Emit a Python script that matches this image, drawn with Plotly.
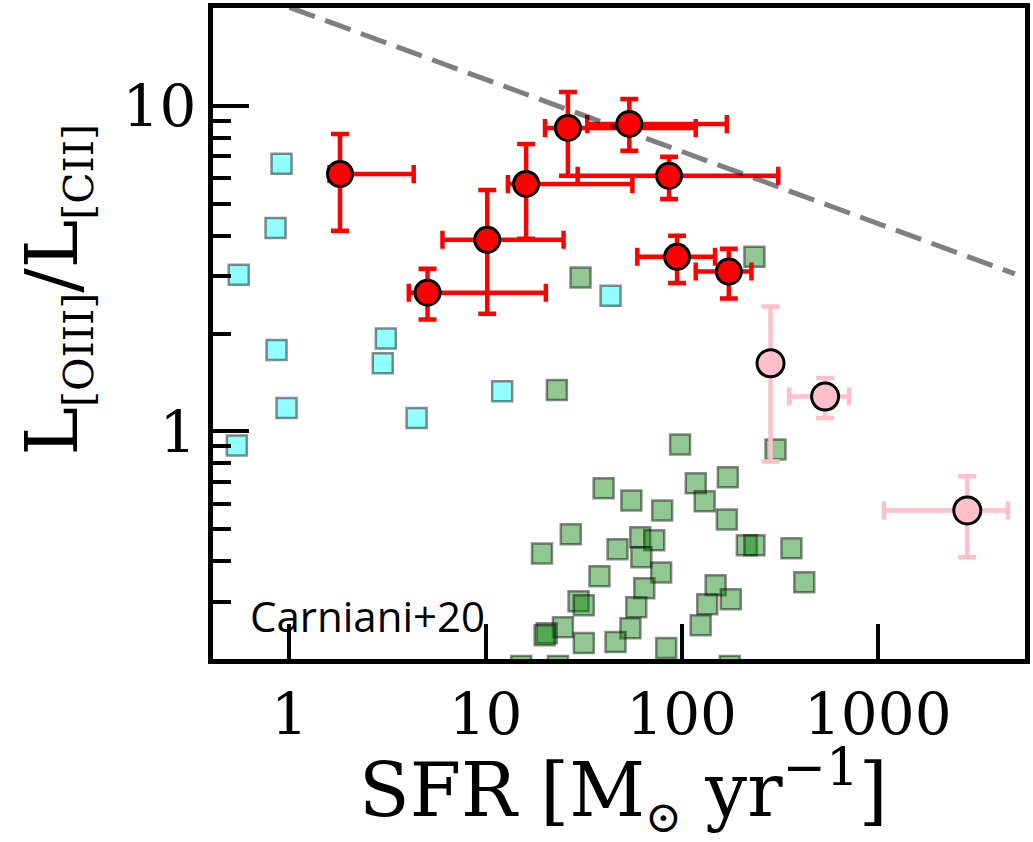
import numpy as np
import plotly.graph_objects as go

# ---------------- data ----------------
# red: Carniani+20 sample
red_sfr = [1.81, 5.06, 10.2, 16.1, 26.3, 54.1, 86.3, 94.8, 174]
red_sfr_lo = [1.6, 4.06, 6.03, 13.0, 20.1, 33.0, 29.5, 59.4, 118]
red_sfr_hi = [4.30, 20.3, 25.0, 56.1, 118, 170, 311, 148, 227]
red_ratio = [6.18, 2.67, 3.88, 5.76, 8.56, 8.81, 6.10, 3.44, 3.10]
red_ratio_lo = [4.14, 2.21, 2.30, 3.91, 6.10, 7.28, 5.18, 2.86, 2.56]
red_ratio_hi = [8.20, 3.16, 5.52, 7.64, 11.04, 10.5, 6.98, 3.99, 3.64]

# pink points
pink_sfr = [284, 539, 2862]
pink_sfr_lo = [284, 354, 1074]
pink_sfr_hi = [284, 714, 4617]
pink_ratio = [1.62, 1.28, 0.572]
pink_ratio_lo = [0.809, 1.10, 0.411]
pink_ratio_hi = [2.42, 1.46, 0.728]

# cyan squares
cyan_sfr = [0.911, 0.849, 0.551, 3.10, 0.859, 2.99, 12.15, 0.966, 4.45, 0.539, 43.4]
cyan_ratio = [6.64, 4.22, 3.03, 1.93, 1.78, 1.62, 1.33, 1.18, 1.10, 0.906, 2.61]

# green squares
green_sfr = [30.5, 235, 23.1, 98.2, 301, 40.0, 55.4, 79.6, 118, 172, 131, 170,
             27.2, 19.4, 47.1, 61.5, 72.5, 62.3, 215, 235, 363, 422, 78.6, 38.1,
             64.5, 149, 178, 135, 58.7, 29.8, 31.7, 24.8, 20.5, 20.0, 54.8, 125,
             31.7, 46.0, 83.4, 15.2, 23.4, 176]
green_ratio = [2.97, 3.44, 1.34, 0.912, 0.881, 0.669, 0.614, 0.572, 0.693, 0.723, 0.610, 0.537,
               0.483, 0.422, 0.435, 0.473, 0.463, 0.411, 0.447, 0.447, 0.4375, 0.344, 0.369, 0.359,
               0.330, 0.337, 0.305, 0.2946, 0.2885, 0.301, 0.2925, 0.2504, 0.240, 0.2366, 0.2487, 0.254,
               0.2238, 0.2254, 0.216, 0.1905, 0.1905, 0.1905]

# dashed relation
line_sfr = [1.0, 5000.0]
line_ratio = [20.1, 3.05]

x_ticks = [1, 10, 100, 1000]
x_ticktext = ["1", "10", "100", "1000"]
y_ticks = [1, 10]
y_ticktext = ["1", "10"]
y_minor = [0.2, 0.3, 0.4, 0.5, 0.6, 0.7, 0.8, 0.9, 2, 3, 4, 5, 6, 7, 8, 9, 20]


def err(v, lo, hi):
    v = np.array(v, float)
    return (np.array(hi, float) - v).tolist(), (v - np.array(lo, float)).tolist()


fig = go.Figure()

sq_style = dict(symbol="square", size=20)
fig.add_trace(go.Scatter(
    x=cyan_sfr, y=cyan_ratio, mode="markers",
    marker=dict(color="rgba(0,255,255,0.43)", line=dict(color="rgba(0,0,0,0.45)", width=2.5), **sq_style)))
fig.add_trace(go.Scatter(
    x=green_sfr, y=green_ratio, mode="markers",
    marker=dict(color="rgba(0,128,0,0.43)", line=dict(color="rgba(0,0,0,0.45)", width=2.5), **sq_style)))

# red error bars
rxp, rxm = err(red_sfr, red_sfr_lo, red_sfr_hi)
ryp, rym = err(red_ratio, red_ratio_lo, red_ratio_hi)
fig.add_trace(go.Scatter(
    x=red_sfr, y=red_ratio, mode="markers",
    marker=dict(size=1, color="rgba(0,0,0,0)"),
    error_x=dict(type="data", symmetric=False, array=rxp, arrayminus=rxm, color="red", thickness=4.5, width=9),
    error_y=dict(type="data", symmetric=False, array=ryp, arrayminus=rym, color="red", thickness=4.5, width=9)))

# dashed line
fig.add_trace(go.Scatter(
    x=line_sfr, y=line_ratio, mode="lines",
    line=dict(color="rgba(0,0,0,0.5)", width=5, dash="27px,11px")))

# red markers
fig.add_trace(go.Scatter(
    x=red_sfr, y=red_ratio, mode="markers",
    marker=dict(size=25, color="red", line=dict(color="black", width=3))))

# pink points
pxp, pxm = err(pink_sfr, pink_sfr_lo, pink_sfr_hi)
pyp, pym = err(pink_ratio, pink_ratio_lo, pink_ratio_hi)
fig.add_trace(go.Scatter(
    x=pink_sfr, y=pink_ratio, mode="markers",
    marker=dict(size=27, color="pink", line=dict(color="black", width=3)),
    error_x=dict(type="data", symmetric=False, array=pxp, arrayminus=pxm, color="pink", thickness=4.5, width=9),
    error_y=dict(type="data", symmetric=False, array=pyp, arrayminus=pym, color="pink", thickness=4.5, width=9)))

tickfont = dict(family="DejaVu Serif", size=58, color="black")
fig.update_xaxes(
    type="log", range=[-0.390, 3.751], tickmode="array", tickvals=x_ticks, ticktext=x_ticktext,
    ticks="inside", ticklen=35, tickwidth=4, tickcolor="black",
    showline=True, linewidth=5, linecolor="black", mirror=True,
    showgrid=False, zeroline=False, tickfont=tickfont)
fig.update_yaxes(
    type="log", range=[np.log10(0.2), np.log10(20)], tickmode="array", tickvals=y_ticks, ticktext=y_ticktext,
    ticks="inside", ticklen=36, tickwidth=4, tickcolor="black",
    minor=dict(tickmode="array", tickvals=y_minor, ticks="inside", ticklen=18, tickwidth=4,
               tickcolor="black", showgrid=False),
    showline=True, linewidth=5, linecolor="black", mirror=True,
    showgrid=False, zeroline=False, tickfont=tickfont)

sub = "<sub><span style='font-size:41px'>{}</span></sub>"
ytitle = "L" + sub.format("[OIII]") + "/L" + sub.format("[CII]")
xtitle = "SFR [M<sub><span style='font-size:44px'>⊙</span></sub> yr<sup>−1</sup>]"

fig.update_layout(
    width=1033, height=842,
    margin=dict(l=213, r=3, t=7, b=183),
    plot_bgcolor="white", paper_bgcolor="white", showlegend=False,
    annotations=[
        dict(text="Carniani+20", xref="paper", yref="paper", x=0.0428, y=0.0675,
             xanchor="left", yanchor="middle", showarrow=False,
             font=dict(family="Open Sans", size=42, color="black")),
        dict(text=ytitle, xref="paper", yref="paper",
             x=-0.1934, y=0.5675, xanchor="center", yanchor="middle", textangle=-90, showarrow=False,
             font=dict(family="DejaVu Serif", size=73, color="black")),
        dict(text=xtitle, xref="paper", yref="paper",
             x=0.506, y=-0.2009, xanchor="center", yanchor="middle", showarrow=False,
             font=dict(family="DejaVu Serif", size=74, color="black")),
    ])

fig.write_html("out.html")
